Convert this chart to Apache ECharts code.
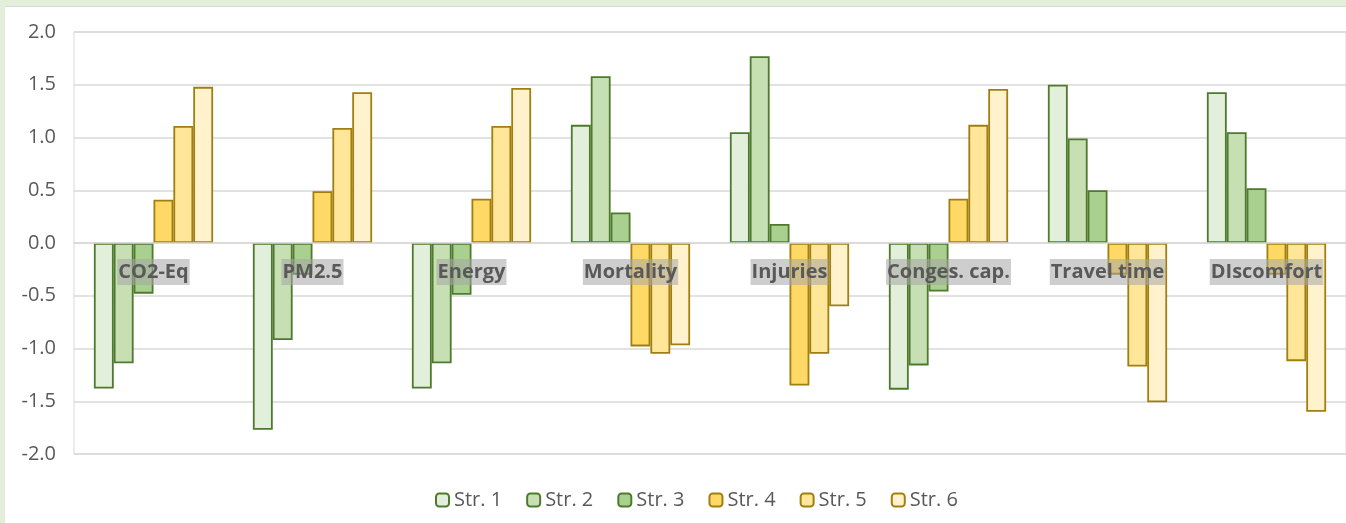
<!DOCTYPE html>
<html>
<head>
<meta charset="utf-8">
<script src="https://cdn.jsdelivr.net/npm/echarts@6/dist/echarts.min.js"></script>
<style>
  html, body { margin: 0; padding: 0; background: #e3eedb; }
  #chart { position: absolute; left: 5px; top: 6px; width: 1341px; height: 517px; background: #fff; border-top: 1px solid #d6d6d6; }
</style>
</head>
<body>
<div id="chart"></div>
<script>
// categories along the x axis
const categories = ["CO2-Eq", "PM2.5", "Energy", "Mortality", "Injuries", "Conges. cap.", "Travel time", "DIscomfort"];

// values per strategy
const str1 = [-1.38, -1.77, -1.38, 1.12, 1.05, -1.39, 1.50, 1.43];
const str2 = [-1.14, -0.92, -1.14, 1.58, 1.77, -1.16, 0.99, 1.05];
const str3 = [-0.48, -0.30, -0.49, 0.29, 0.18, -0.46, 0.50, 0.52];
const str4 = [0.41, 0.49, 0.42, -0.98, -1.35, 0.42, -0.30, -0.30];
const str5 = [1.11, 1.09, 1.11, -1.05, -1.05, 1.12, -1.17, -1.12];
const str6 = [1.48, 1.43, 1.47, -0.97, -0.60, 1.46, -1.51, -1.60];

const seriesNames = ["Str. 1", "Str. 2", "Str. 3", "Str. 4", "Str. 5", "Str. 6"];
const seriesData = [str1, str2, str3, str4, str5, str6];
const fills = ["#e2efda", "#c6e0b4", "#a9d08e", "#ffd966", "#ffe699", "#fff2cc"];
const borders = ["#4f7a2e", "#4f7a2e", "#4f7a2e", "#a07f10", "#a07f10", "#a07f10"];

const font = "'Open Sans', 'Noto Sans', sans-serif";

const chart = echarts.init(document.getElementById("chart"));
chart.setOption({
  animation: false,
  textStyle: { fontFamily: font },
  grid: {
    left: 69,
    top: 25,
    width: 1280,
    height: 422,
    show: true,
    borderColor: "#d9d9d9",
    borderWidth: 1
  },
  legend: {
    left: 425,
    top: 478,
    itemWidth: 13,
    itemHeight: 13,
    itemGap: 24,
    textStyle: { fontSize: 20, color: "#595959", fontFamily: font },
    data: seriesNames
  },
  xAxis: {
    type: "category",
    data: categories,
    z: 10,
    position: "bottom",
    offset: -211,
    axisLine: { onZero: false, lineStyle: { color: "#d9d9d9", width: 1.5 } },
    axisTick: { show: false },
    axisLabel: {
      margin: 16,
      fontSize: 20,
      fontWeight: "bold",
      color: "#595959",
      backgroundColor: "rgba(165,165,165,0.55)",
      padding: [3, 1, 3, 1],
      interval: 0
    }
  },
  yAxis: {
    type: "value",
    min: -2,
    max: 2,
    interval: 0.5,
    axisLine: { show: false },
    axisTick: { show: false },
    splitLine: { lineStyle: { color: "#d9d9d9", width: 1.5 } },
    axisLabel: {
      margin: 18,
      fontSize: 20,
      color: "#595959",
      formatter: v => v.toFixed(1)
    }
  },
  series: seriesData.map((d, i) => ({
    name: seriesNames[i],
    type: "bar",
    data: d,
    barGap: "0%",
    barCategoryGap: "25%",
    itemStyle: { color: fills[i], borderColor: borders[i], borderWidth: 1.8 }
  }))
});
</script>
</body>
</html>
